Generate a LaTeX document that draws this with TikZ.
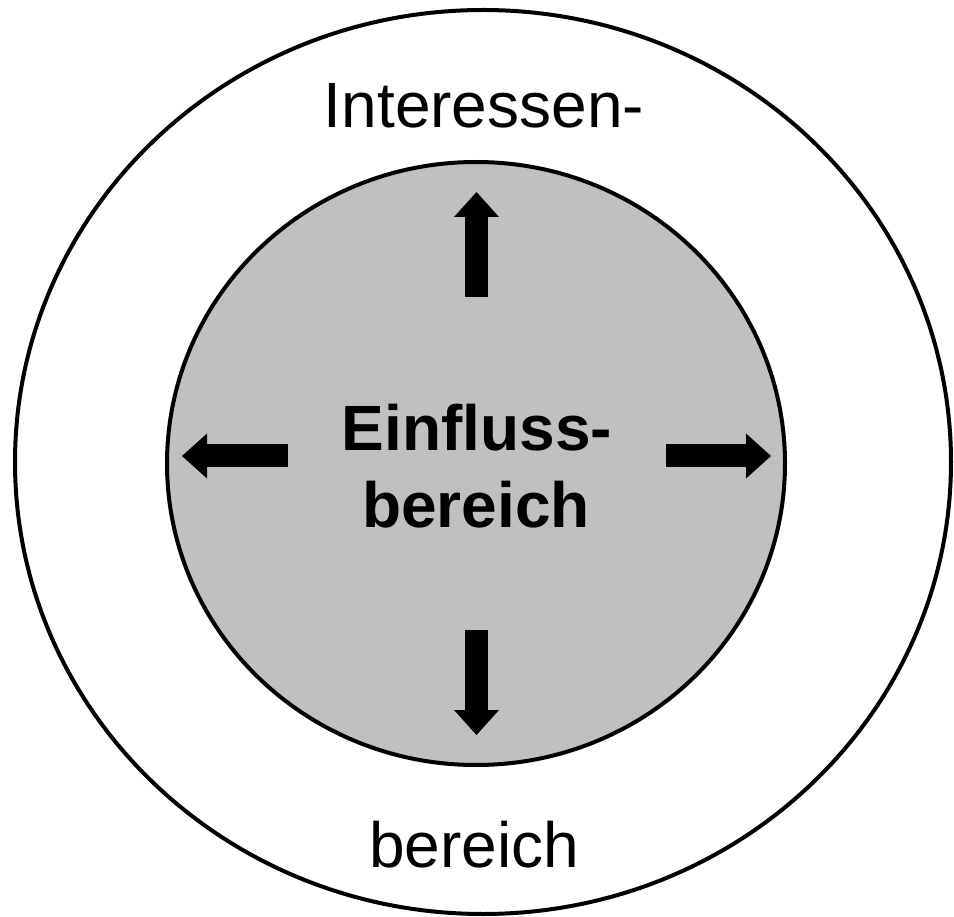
\documentclass[tikz,border=0pt]{standalone}
\usepackage{fontspec}
\setmainfont{Liberation Sans}
\usetikzlibrary{arrows.meta}
\definecolor{einflussgrau}{RGB}{192,192,192}
\tikzset{
  blockarrow/.style={line width=23pt,-{Triangle[length=25pt,width=45pt,line width=0pt]}},
  bigtext/.style={anchor=base,inner sep=0pt,font=\fontsize{64}{74}\selectfont},
}
\begin{document}
\begin{tikzpicture}[x=1pt,y=-1pt]
\useasboundingbox (0,0) rectangle (954,917);
\draw [line width=4pt] (483,462) ellipse [x radius=468pt, y radius=452pt];
\draw [line width=4pt,fill=einflussgrau] (476,463.5) ellipse [x radius=309pt, y radius=301.5pt];
% arrow ends
\coordinate (upS) at (476.5,297);
\coordinate (upT) at (476.5,192);
\coordinate (dnS) at (476.5,630);
\coordinate (dnT) at (476.5,735);
\coordinate (ltS) at (288,456);
\coordinate (ltT) at (182,456);
\coordinate (rtS) at (666,456);
\coordinate (rtT) at (771,456);
\draw [blockarrow] (upS) -- (upT);
\draw [blockarrow] (dnS) -- (dnT);
\draw [blockarrow] (ltS) -- (ltT);
\draw [blockarrow] (rtS) -- (rtT);
% labels
\node [bigtext] (intop) at (484,128) {Interessen-};
\node [bigtext] (inbot) at (474,867) {bereich};
\node [bigtext,font=\fontsize{64}{74}\selectfont\bfseries] (einA) at (477,451) {Einfluss-};
\node [bigtext,font=\fontsize{64}{74}\selectfont\bfseries] (einB) at (476,527) {bereich};
\end{tikzpicture}
\end{document}
